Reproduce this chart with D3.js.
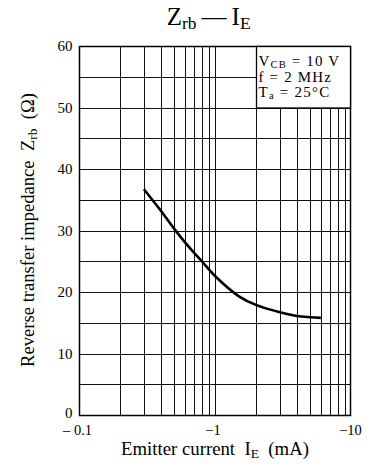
<!DOCTYPE html>
<html><head><meta charset="utf-8">
<script src="https://cdn.jsdelivr.net/npm/d3@7"></script>
<style>body{margin:0;background:#fff}svg text{font-family:"Liberation Serif","DejaVu Serif",serif;fill:#000}</style>
</head><body><svg id="c" width="376" height="471" font-family="Liberation Serif, serif"></svg>
<script>
const currentIE = [0.3, 0.4, 0.5, 0.6, 0.7, 0.8, 1.0, 1.5, 2.0, 3.0, 4.0, 5.0, 6.0];
const impedanceZrb = [36.7, 33.2, 30.3, 28.1, 26.4, 25.0, 22.6, 19.3, 17.9, 16.7, 16.1, 15.9, 15.8];
const xTicks = [0.1, 1, 10];
const xTickLabels = ["\u2013 0.1", "\u22121", "\u221210"];
const yTicks = [0, 10, 20, 30, 40, 50, 60];
const yMinor = [5, 15, 25, 35, 45, 55];
const legendLines = [["V", "CB", " = 10 V"], ["f = 2 MHz", "", ""], ["T", "a", " = 25\u00b0C"]];

const svg = d3.select("#c");
const L = 79, R = 351, T = 46, B = 415;
const x = d3.scaleLog().domain([0.1, 10]).range([L, R]);
const y = d3.scaleLinear().domain([0, 60]).range([B, T]);
const boxL = 256, boxB = y(50);

function fit(t, target) {
  const fs = parseFloat(t.attr("font-size"));
  const w = t.node().getBBox().width;
  if (w > 0) t.attr("font-size", fs * target / w);
  return t;
}
function spread(t, target) {
  const w = t.node().getBBox().width;
  const n = t.text().length;
  if (w > 0 && n > 1 && target > w) t.attr("letter-spacing", (target - w) / n);
  return t;
}

const g = svg.append("g");
const vlines = [];
for (let d of [0.1, 1]) for (let k = 2; k <= 9; k++) vlines.push(d * k);
vlines.push(1);
vlines.forEach(v => {
  const xp = Math.round(x(v)) + 0.5;
  g.append("line").attr("x1", xp).attr("x2", xp)
    .attr("y1", B).attr("y2", xp > boxL ? boxB : T)
    .attr("stroke", "#111").attr("stroke-width", 1);
});
yTicks.concat(yMinor).forEach(v => {
  if (v === 0 || v === 60) return;
  const yp = Math.round(y(v)) + 0.5;
  g.append("line").attr("x1", L).attr("x2", v > 50 ? boxL : R)
    .attr("y1", yp).attr("y2", yp).attr("stroke", "#111").attr("stroke-width", 1);
});
g.append("rect").attr("x", L + 0.5).attr("y", T + 0.5).attr("width", R - L - 1).attr("height", B - T)
  .attr("fill", "none").attr("stroke", "#000").attr("stroke-width", 1.5);
g.append("rect").attr("x", boxL + 0.5).attr("y", T + 0.5).attr("width", R - boxL - 1).attr("height", boxB - T)
  .attr("fill", "#fff").attr("stroke", "#000").attr("stroke-width", 1.3);

// legend
const legBase = [66, 81.5, 97];
const legWidth = [82, 74, 72];
legendLines.forEach((l, i) => {
  const t = svg.append("text").attr("x", boxL + 2.5).attr("y", legBase[i]).attr("font-size", 15);
  t.append("tspan").text(l[0]);
  if (l[1]) t.append("tspan").attr("font-size", "0.7em").attr("dy", "0.15em").text(l[1]);
  if (l[2]) t.append("tspan").attr("dy", l[1] ? "-0.105em" : 0).text(l[2]);
  spread(t, legWidth[i]);
});

const line = d3.line().x(d => x(d[0])).y(d => y(d[1])).curve(d3.curveCatmullRom);
svg.append("path").datum(currentIE.map((c, i) => [c, impedanceZrb[i]]))
  .attr("d", line).attr("fill", "none").attr("stroke", "#000").attr("stroke-width", 2.6);

yTicks.forEach(v => {
  svg.append("text").attr("x", 72.5).attr("y", y(v) + (v === 0 ? 3 : 5)).attr("text-anchor", "end")
    .attr("font-size", 15).text(v);
});
xTicks.forEach((v, i) => {
  svg.append("text").attr("x", x(v) + (i === 0 ? -1.5 : i === 2 ? -0.5 : -2)).attr("y", 434.5).attr("text-anchor", "middle")
    .attr("font-size", 14.5).text(xTickLabels[i]);
});

const tt = svg.append("text").attr("x", 208.7).attr("y", 25).attr("text-anchor", "middle").attr("font-size", 20);
tt.append("tspan").text("Z");
tt.append("tspan").attr("font-size", "0.7em").attr("dy", "0.2em").text("rb");
tt.append("tspan").attr("dy", "-0.14em").text("\u2009\u2014\u2009I");
tt.append("tspan").attr("font-size", "0.7em").attr("dy", "0.2em").text("E");
fit(tt, 84);

const xl = svg.append("text").attr("x", 215).attr("y", 455).attr("text-anchor", "middle").attr("font-size", 17);
xl.append("tspan").text("Emitter current\u00a0\u00a0I");
xl.append("tspan").attr("font-size", "0.72em").attr("dy", "0.25em").text("E");
xl.append("tspan").attr("dy", "-0.18em").text("\u00a0\u00a0(mA)");
fit(xl, 188);

const yl = svg.append("text").attr("transform", "translate(34,230) rotate(-90)").attr("text-anchor", "middle").attr("font-size", 17);
yl.append("tspan").text("Reverse transfer impedance\u00a0\u00a0Z");
yl.append("tspan").attr("font-size", "0.72em").attr("dy", "0.25em").text("rb");
yl.append("tspan").attr("dy", "-0.18em").text("\u00a0\u00a0(\u03a9)");
fit(yl, 274);
</script></body></html>
